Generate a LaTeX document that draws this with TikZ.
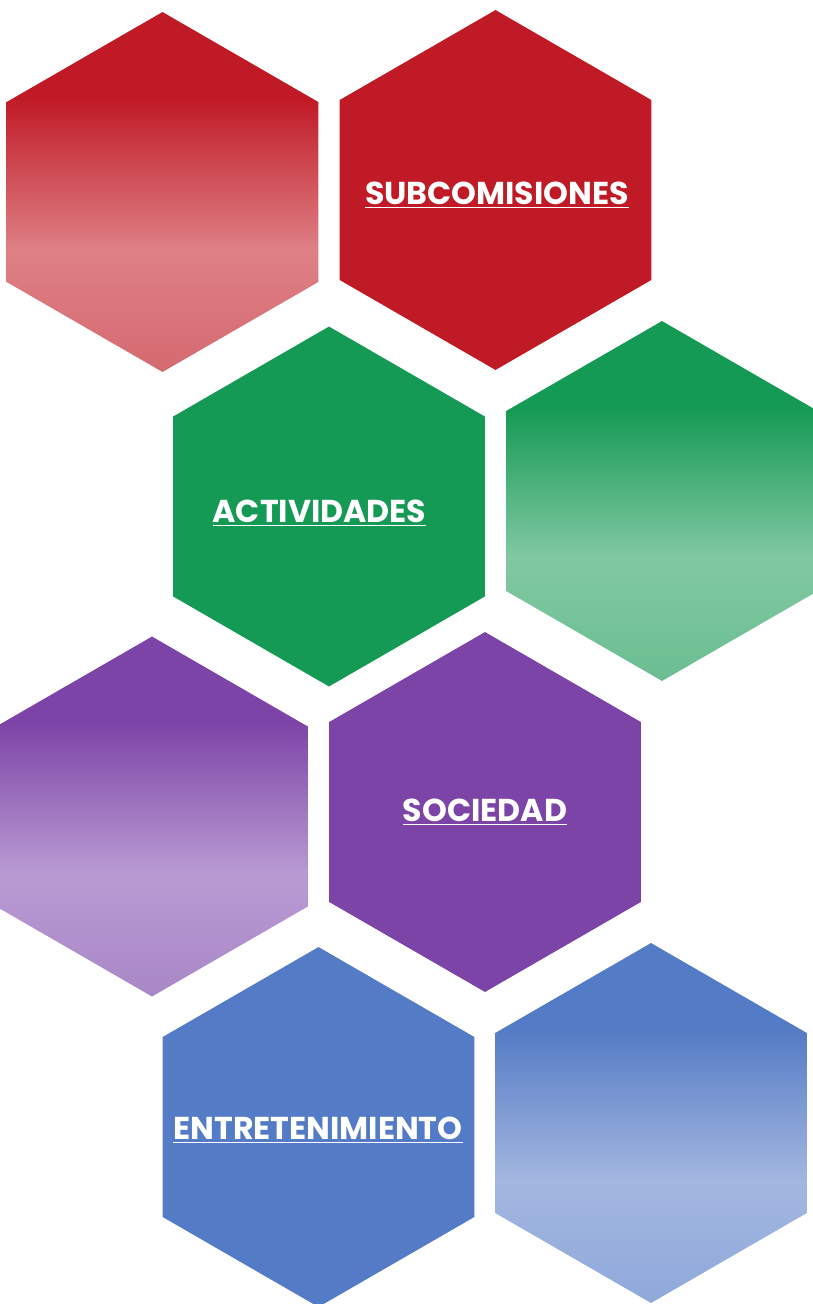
\documentclass[tikz,border=0pt]{standalone}
\usepackage{fontspec}
\setmainfont{Poppins}
\usepackage{tikz}
\usetikzlibrary{shapes.geometric,positioning}

\definecolor{redfull}{HTML}{C01A26}
\definecolor{redsoft}{HTML}{DE8085}
\definecolor{redlow}{HTML}{D56A71}
\definecolor{greenfull}{HTML}{159A55}
\definecolor{greensoft}{HTML}{81C8A2}
\definecolor{greenlow}{HTML}{6BBE91}
\definecolor{purplefull}{HTML}{7D44A7}
\definecolor{purplesoft}{HTML}{B99BD3}
\definecolor{purplelow}{HTML}{A987C7}
\definecolor{bluefull}{HTML}{547BC5}
\definecolor{bluesoft}{HTML}{A3B7E0}
\definecolor{bluelow}{HTML}{8FA9DA}

\colorlet{hexdark}{redfull}
\colorlet{hexlight}{redsoft}
\colorlet{hexlow}{redlow}
\pgfdeclareverticalshading[hexdark,hexlight,hexlow]{hexfade}{100bp}{%
  color(0bp)=(hexlow); color(25bp)=(hexlow); color(42bp)=(hexlight);
  color(63bp)=(hexdark); color(100bp)=(hexdark)}

\begin{document}
\begin{tikzpicture}[
    x=0.02cm, y=-0.02cm,
    font=\bfseries\fontsize{18}{20}\selectfont,
    hexa/.style={
		regular polygon,
		regular polygon sides=6,
		shape border rotate=30,
		minimum size=7.2cm,
		inner sep=0pt,
		draw=none
	},
	fullhex/.style={
		hexa,
		fill=#1
	},
	fadehex/.style={
		hexa,
		/utils/exec={\colorlet{hexdark}{#1full}\colorlet{hexlight}{#1soft}\colorlet{hexlow}{#1low}},
		shading=hexfade
	},
	caption/.style={
		text=white,
		inner sep=0pt
	}
  ]
  \useasboundingbox (0,0) rectangle (812,1304);
    % first row

  \node [fadehex=red] (redfade) at (162.5,192) {};
  \node [fullhex=redfull] (subcom) at (495.5,190) {};
  \node [caption] (subcomtext) at (497,195) {\underline{SUBCOMISIONES}};

    % second row
  \node [fullhex=greenfull] (activ) at (329,506.5) {};
  \node [caption] (activtext) at (319.5,513) {\underline{ACTIVIDADES}};
  \node [fadehex=green] (greenfade) at (662,501) {};

    % third row
  \node [fadehex=purple] (purplefade) at (152,816.5) {};
  \node [fullhex=purplefull] (socie) at (485,812) {};
  \node [caption] (societext) at (485,812) {\underline{SOCIEDAD}};

    % fourth row
  \node [fullhex=bluefull] (entre) at (318.5,1127) {};
  \node [caption] (entretext) at (318,1130) {\underline{ENTRETENIMIENTO}};
  \node [fadehex=blue] (bluefade) at (651,1123) {};

\end{tikzpicture}
\end{document}
